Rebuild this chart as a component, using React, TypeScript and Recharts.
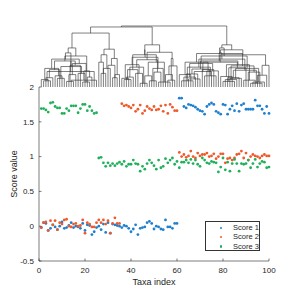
import React from 'react'
import {
  ComposedChart, Line, ScatterChart, Scatter, XAxis, YAxis, Legend,
} from 'recharts'

// score per taxon, taxa 1..100 in order
const SCORE_1 = [
  -0.02, 0.05, 0.04, -0.06, -0.03, 0.02, -0.01, -0.05, 0.0, 0.06,
  -0.03, -0.02, 0.01, 0.05, -0.02, 0.0, -0.01, -0.03, 0.04, -0.06,
  0.02, 0.01, -0.12, -0.08, -0.02, 0.0, -0.05, 0.03, -0.09, 0.05,
  -0.1, 0.03, 0.02, 0.01, 0.0, -0.02, 0.01, 0.0, -0.03, -0.08,
  -0.04, 0.02, -0.12, -0.03, -0.02, -0.01, 0.05, 0.07, 0.04, -0.04,
  0.0, -0.01, -0.04, -0.05, 0.09, -0.01, -0.01, -0.03, 0.04, 0.04,
  1.84, 1.84, 1.72, 1.7, 1.75, 1.74, 1.73, 1.71, 1.68, 1.66,
  1.65, 1.61, 1.72, 1.75, 1.77, 1.75, 1.65, 1.63, 1.61, 1.75,
  1.74, 1.61, 1.68, 1.73, 1.66, 1.76, 1.65, 1.74, 1.76, 1.68,
  1.68, 1.68, 1.68, 1.81, 1.73, 1.73, 1.68, 1.62, 1.72, 1.62,
]
const SCORE_2 = [
  -0.02, 0.05, 0.06, -0.06, 0.08, 0.02, 0.08, -0.05, 0.05, 0.03,
  0.09, 0.1, 0.0, -0.01, 0.03, 0.04, 0.0, 0.01, 0.09, -0.1,
  0.05, 0.03, -0.01, -0.01, 0.05, 0.09, 0.05, 0.09, 0.03, 0.08,
  -0.1, 0.04, 0.12, 0.04, 0.04, 1.76, 1.73, 1.74, 1.72, 1.7,
  1.74, 1.65, 1.68, 1.74, 1.62, 1.66, 1.72, 1.69, 1.67, 1.72,
  1.67, 1.68, 1.73, 1.65, 1.74, 1.62, 1.75, 1.71, 1.66, 1.66,
  1.06, 1.0, 1.03, 0.99, 1.01, 1.08, 1.0, 0.98, 1.05, 1.01,
  1.03, 1.03, 1.05, 1.0, 1.01, 1.04, 0.97, 1.0, 1.04, 1.04,
  0.91, 0.97, 0.98, 0.95, 0.98, 1.03, 1.04, 1.08, 0.98, 1.05,
  0.95, 1.0, 1.03, 1.01, 1.0, 0.98, 1.01, 1.03, 1.01, 1.01,
]
const SCORE_3 = [
  1.69, 1.69, 1.67, 1.64, 1.77, 1.78, 1.72, 1.7, 1.7, 1.62,
  1.62, 1.69, 1.66, 1.73, 1.73, 1.73, 1.63, 1.69, 1.75, 1.75,
  1.66, 1.72, 1.66, 1.62, 1.63, 0.98, 0.99, 0.91, 0.86, 0.91,
  0.87, 0.9, 0.87, 0.9, 0.92, 0.89, 0.93, 0.86, 0.89, 0.89,
  0.95, 0.9, 0.89, 0.79, 0.86, 0.82, 0.9, 0.95, 0.91, 0.87,
  0.82, 0.95, 0.84, 0.86, 0.97, 0.91, 0.95, 0.98, 0.89, 0.93,
  0.84, 0.92, 0.92, 0.95, 0.91, 0.96, 0.9, 0.95, 0.89, 0.86,
  0.98, 0.95, 0.91, 0.9, 0.93, 0.92, 0.91, 0.78, 0.85, 0.98,
  0.81, 0.92, 0.79, 0.9, 0.96, 0.9, 0.79, 0.9, 0.89, 0.9,
  0.95, 0.84, 0.9, 0.96, 0.85, 0.9, 0.93, 0.92, 0.84, 0.85,
]

const SERIES_NAMES = ['Score 1', 'Score 2', 'Score 3']
const SERIES_COLORS = ['#1f80cf', '#ee5a2c', '#1fb15a']
const X_TICKS = [0, 20, 40, 60, 80, 100]
const Y_TICKS = [-0.5, 0, 0.5, 1, 1.5, 2]

// dendrogram clusters: [height, left, right], leaves are taxa indices
type Node = number | [number, Node, Node]
const CLUSTER_A1: Node = [63,
  [55,
    [45, [30, [12, 1, 4], [18, 7, 10]], [38, [20, 13, 16], [8, 19, 22]]],
    [41, [25, [10, 2, 5], 24], [33, [14, 8, 11], [22, 17, 20]]]],
  [50,
    [42, [28, [15, 3, 6], 9], [35, [9, 12, 15], 18]],
    [26, [16, 21, 23], [11, 14, 25]]]]
const CLUSTER_A2: Node = [61,
  [52, [40, 26, [22, 27, 29]], [30, 28, 31]],
  [46, [35, 30, [15, 32, 34]], [20, 33, 35]]]
const CLUSTER_B: Node = [68,
  [60,
    [48, [36, [14, 36, 39], [22, 42, 45]], [30, [10, 48, 51], 54]],
    [52, [28, [12, 37, 40], 43], [40, [18, 46, 49], [8, 52, 57]]]],
  [56,
    [44, [32, [16, 38, 41], [6, 44, 47]], [24, 50, 53]],
    [46, [34, [20, 55, 58], 60], [11, 56, 59]]]]
const CLUSTER_C: Node = [68,
  [63,
    [54, [40, [20, 61, 66], [28, 71, 76]], [34, [12, 81, 86], [24, 91, 96]]],
    [50, [38, [16, 63, 68], [26, 73, 78]], [30, [14, 83, 88], [8, 93, 98]]]],
  [60,
    [55,
      [45, [32, [10, 62, 67], [18, 72, 77]], [27, [15, 82, 87], [6, 92, 97]]],
      [42, [29, [21, 64, 69], 74], [36, [17, 79, 84], [11, 89, 94]]]],
    [52,
      [40, [25, [13, 65, 70], 75], [31, [9, 80, 85], 90]],
      [35, [19, 95, 99], 100]]]]
const TREE: Node = [98.4, [96.8, [87, CLUSTER_A1, CLUSTER_A2], CLUSTER_B], CLUSTER_C]

const FONT = '"Liberation Sans", Arial, sans-serif'
const AXIS = '#262626'

type Pt = { x: number; h: number | null }

function walk(node: Node, out: Pt[]): { x: number; h: number } {
  if (typeof node === 'number') return { x: node, h: 0 }
  const [h, a, b] = node
  const l = walk(a, out)
  const r = walk(b, out)
  out.push({ x: l.x, h: l.h }, { x: l.x, h }, { x: r.x, h }, { x: r.x, h: r.h }, { x: r.x, h: null })
  return { x: (l.x + r.x) / 2, h }
}

const treeLines: Pt[] = []
walk(TREE, treeLines)

const scores = [SCORE_1, SCORE_2, SCORE_3].map(s => s.map((v, i) => ({ x: i + 1, y: v })))

function YTick({ x, y, payload }: any) {
  return (
    <g>
      <line x1={x + 5} x2={x + 7.5} y1={y} y2={y} stroke={AXIS} strokeWidth={0.6} />
      <text x={x} y={y} dy="0.34em" textAnchor="end" fontSize={8} fontFamily={FONT} fill={AXIS}>
        {payload.value}
      </text>
    </g>
  )
}

function XTick({ x, y, payload }: any) {
  return (
    <g>
      <line x1={x} x2={x} y1={y - 6} y2={y - 8.5} stroke={AXIS} strokeWidth={0.6} />
      <text x={x} y={y} dy="0.71em" textAnchor="middle" fontSize={8} fontFamily={FONT} fill={AXIS}>
        {payload.value}
      </text>
    </g>
  )
}

function LegendBox({ payload }: any) {
  return (
    <div style={{
      width: 55, height: 30, boxSizing: 'border-box', border: '1px solid #333',
      background: '#fff', paddingTop: 1, fontFamily: FONT, fontSize: 7.5, color: AXIS,
    }}>
      {(payload || []).map((p: any) => (
        <div key={p.value} style={{ height: 9.3, lineHeight: '9.3px', position: 'relative' }}>
          <span style={{
            position: 'absolute', left: 13.5, top: 3.5, width: 2.5, height: 2.5,
            borderRadius: '50%', background: p.color,
          }} />
          <span style={{ position: 'absolute', left: 27 }}>{p.value}</span>
        </div>
      ))}
    </div>
  )
}

const dot = (color: string) => (props: any) => (
  <circle cx={props.cx} cy={props.cy} r={1.4} fill={color} />
)

export default function App() {
  return (
    <div style={{ position: 'absolute', left: 0, top: 0, width: 287, height: 289, background: '#fff' }}>
      <div style={{ position: 'absolute', left: 0, top: 0 }}>
        <ComposedChart width={287} height={90} data={treeLines}
          margin={{ top: 25, right: 18, bottom: 3, left: 39 }}>
          <XAxis type="number" dataKey="x" domain={[0, 100]} hide />
          <YAxis type="number" domain={[0, 100]} hide />
          <Line dataKey="h" stroke="#2a2a2a" strokeWidth={0.6} dot={false}
            connectNulls={false} isAnimationActive={false} />
        </ComposedChart>
      </div>
      <div style={{ position: 'absolute', left: 0, top: 0 }}>
        <ScatterChart width={287} height={289} margin={{ top: 87, right: 18, bottom: 0, left: 0 }}>
          <XAxis type="number" dataKey="x" domain={[0, 100]} ticks={X_TICKS} height={28}
            stroke={AXIS} strokeWidth={0.6} tickLine={false} tickSize={0} tickMargin={6}
            tick={XTick} interval={0}
            label={{ value: 'Taxa index', position: 'insideBottom', offset: 4,
              style: { fontSize: 9, fontFamily: FONT, fill: AXIS } }} />
          <YAxis type="number" dataKey="y" domain={[-0.5, 2]} ticks={Y_TICKS} width={39}
            stroke={AXIS} strokeWidth={0.6} tickLine={false} tickSize={0} tickMargin={5}
            tick={YTick} interval={0}
            label={{ value: 'Score value', angle: -90, position: 'insideLeft', offset: 14,
              style: { fontSize: 9, fontFamily: FONT, fill: AXIS, textAnchor: 'middle' } }} />
          {scores.map((d, i) => (
            <Scatter key={SERIES_NAMES[i]} name={SERIES_NAMES[i]} data={d} fill={SERIES_COLORS[i]}
              shape={dot(SERIES_COLORS[i])} isAnimationActive={false} />
          ))}
          <Legend layout="vertical" align="center" verticalAlign="middle" content={LegendBox}
            wrapperStyle={{ left: 205, top: 221, width: 55, height: 30 }} />
        </ScatterChart>
      </div>
    </div>
  )
}
